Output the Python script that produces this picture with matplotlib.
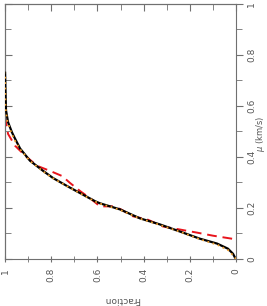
import matplotlib.pyplot as plt
from matplotlib.ticker import MultipleLocator

# cumulative fraction vs mu (km/s), chart is drawn rotated: fraction runs horizontally (inverted)
frac_obs = [0.0, 0.004, 0.013, 0.035, 0.082, 0.156, 0.242, 0.329, 0.416, 0.502, 0.589, 0.61,
            0.675, 0.732, 0.792, 0.835, 0.892, 0.935, 0.957, 0.97, 0.987, 0.996, 1.0]
mu_obs = [0.0, 0.004, 0.02, 0.04, 0.06, 0.079, 0.107, 0.135, 0.159, 0.194, 0.218, 0.226,
          0.258, 0.286, 0.317, 0.345, 0.385, 0.433, 0.472, 0.496, 0.536, 0.583, 0.73]

frac_alt = [0.0, 0.01, 0.03, 0.08, 0.156, 0.242, 0.329, 0.416, 0.502, 0.589, 0.61,
            0.675, 0.732, 0.792, 0.835, 0.892, 0.935, 0.96, 0.975, 0.99, 0.998, 1.0]
mu_alt = [0.0, 0.01, 0.032, 0.055, 0.077, 0.106, 0.133, 0.158, 0.192, 0.217, 0.225,
          0.257, 0.285, 0.316, 0.343, 0.384, 0.43, 0.468, 0.5, 0.54, 0.59, 0.73]

frac_model = [0.017, 0.1, 0.169, 0.242, 0.316, 0.385, 0.446, 0.5, 0.532, 0.589, 0.632,
              0.675, 0.719, 0.753, 0.805, 0.861, 0.913, 0.957, 0.987, 1.0]
mu_model = [0.079, 0.091, 0.103, 0.115, 0.127, 0.155, 0.167, 0.195, 0.206, 0.206, 0.238,
            0.266, 0.298, 0.325, 0.345, 0.365, 0.405, 0.444, 0.49, 0.555]

tick_vals = [0, 0.2, 0.4, 0.6, 0.8, 1.0]
tick_labels = ['0', '0.2', '0.4', '0.6', '0.8', '1']

fig = plt.figure(figsize=(2.67, 3.06), dpi=100)
ax = fig.add_axes([0.019, 0.154, 0.865, 0.833])

ax.plot(frac_obs, mu_obs, color='black', lw=1.6, zorder=3)
ax.plot(frac_alt, mu_alt, color='#f0a030', lw=1.3, ls=(0, (1, 2)), zorder=4)
ax.plot(frac_model, mu_model, color='#e8141c', lw=1.4, ls=(0, (5, 3)), zorder=2)

gray = '#707070'
tcol = '#555555'
for s in ax.spines.values():
    s.set_color(gray)
    s.set_linewidth(0.8)

ax.set_xticks(tick_vals)
ax.set_xticklabels(tick_labels, va='top')
ax.set_yticks(tick_vals)
ax.set_yticklabels(tick_labels, va='center')
ax.xaxis.set_minor_locator(MultipleLocator(0.1))
ax.yaxis.set_minor_locator(MultipleLocator(0.1))
ax.set_xlim(1, 0)
ax.set_ylim(0, 1)
ax.yaxis.tick_right()
ax.tick_params(axis='x', which='both', direction='inout', bottom=True, top=False, color=gray,
               labelsize=6.5, labelcolor=tcol, labelrotation=90, pad=4)
ax.tick_params(axis='y', which='both', direction='out', left=False, right=True, color=gray,
               labelsize=6.5, labelcolor=tcol, labelrotation=90, pad=3)
ax.tick_params(which='major', length=5)
ax.tick_params(which='minor', length=4)

# inward ticks on top and left edges
top = ax.secondary_xaxis('top')
top.set_xticks(tick_vals)
top.xaxis.set_minor_locator(MultipleLocator(0.1))
top.tick_params(which='both', direction='in', color=gray, labeltop=False)
top.tick_params(which='major', length=5)
top.tick_params(which='minor', length=4)
top.spines['top'].set_color(gray)
left = ax.secondary_yaxis('left')
left.set_yticks(tick_vals)
left.yaxis.set_minor_locator(MultipleLocator(0.1))
left.tick_params(which='both', direction='in', color=gray, labelleft=False)
left.tick_params(which='major', length=5)
left.tick_params(which='minor', length=4)
left.spines['left'].set_color(gray)

ax.set_xlabel('Fraction', rotation=180, fontsize=6.5, color=tcol, va='center', ha='center')
ax.xaxis.set_label_coords(0.506, -0.16)
ax.yaxis.set_label_position('right')
ax.set_ylabel(r'$\mu$ (km/s)', rotation=90, fontsize=6, color=tcol, va='center', ha='center')
ax.yaxis.set_label_coords(1.105, 0.49)

fig.savefig('out.png', dpi=100)
plt.close(fig)
